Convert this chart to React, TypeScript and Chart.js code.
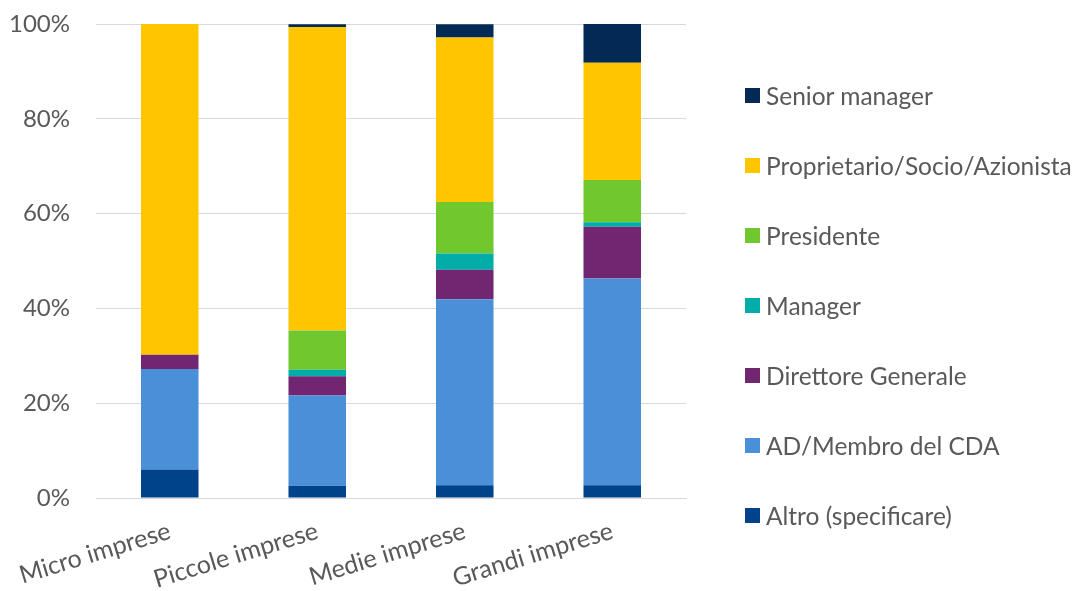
import React, { useEffect, useRef } from "react";
import { Chart, registerables } from "chart.js";

Chart.register(...registerables);

const categories = ["Micro imprese", "Piccole imprese", "Medie imprese", "Grandi imprese"];
const altro = [6.0, 2.6, 2.7, 2.7];
const adMembro = [21.2, 19.0, 39.25, 43.6];
const direttore = [3.0, 4.1, 6.2, 10.9];
const manager = [0, 1.35, 3.45, 0.95];
const presidente = [0, 8.3, 10.85, 8.95];
const proprietario = [69.8, 64.0, 34.7, 24.7];
const senior = [0, 0.6, 2.8, 8.2];
const yTicks = [0, 20, 40, 60, 80, 100];

const seriesNames = [
  "Altro (specificare)",
  "AD/Membro del CDA",
  "Direttore Generale",
  "Manager",
  "Presidente",
  "Proprietario/Socio/Azionista",
  "Senior manager",
];
const seriesData = [altro, adMembro, direttore, manager, presidente, proprietario, senior];
const seriesColors = ["#00438A", "#4A90D9", "#702670", "#00ADA8", "#70C72E", "#FFC600", "#022A54"];

const FONT = "Lato";
const TEXT = "#595959";

export default function App() {
  const ref = useRef<HTMLCanvasElement>(null);
  useEffect(() => {
    const ctx = ref.current!;
    const chart = new Chart(ctx, {
      type: "bar",
      data: {
        labels: categories,
        datasets: seriesNames.map((n, i) => ({
          label: n,
          data: seriesData[i],
          backgroundColor: seriesColors[i],
          borderWidth: 0,
          barPercentage: 0.39,
          categoryPercentage: 1,
        })),
      },
      options: {
        animation: false,
        responsive: false,
        maintainAspectRatio: false,
        layout: { padding: { left: 0, right: 391, top: 24, bottom: 0 } },
        plugins: { legend: { display: false }, tooltip: { enabled: false } },
        scales: {
          x: {
            stacked: true,
            grid: { display: false },
            border: { display: true, color: "#D9D9D9", width: 1 },
            ticks: {
              color: TEXT,
              font: { family: FONT, size: 25 },
              minRotation: 17,
              maxRotation: 17,
              padding: 10,
            },
            afterFit: (s: any) => {
              s.height = 93;
              s.paddingLeft = 0;
              s.paddingRight = 0;
            },
          },
          y: {
            stacked: true,
            min: 0,
            max: 100,
            grid: { color: "#D9D9D9", drawTicks: false, lineWidth: 1 },
            border: { display: false },
            afterBuildTicks: (s: any) => {
              s.ticks = yTicks.map((v) => ({ value: v }));
            },
            ticks: {
              color: TEXT,
              font: { family: FONT, size: 24 },
              padding: 26,
              callback: (v: any) => v + "%",
            },
            afterFit: (s: any) => {
              s.width = 96;
              s.paddingTop = 0;
              s.paddingBottom = 0;
            },
          },
        },
      },
    });
    return () => chart.destroy();
  }, []);

  const legendItems = seriesNames.map((n, i) => ({ n, c: seriesColors[i] })).reverse();

  return (
    <div style={{ position: "fixed", left: 0, top: 0, width: 1077, height: 591, background: "#fff" }}>
      <canvas ref={ref} width={1077} height={591} style={{ position: "absolute", left: 0, top: 0 }} />
      <div style={{ position: "absolute", left: 745, top: 60, display: "flex", flexDirection: "column" }}>
        {legendItems.map((it) => (
          <div key={it.n} style={{ height: 70, display: "flex", alignItems: "center" }}>
            <div style={{ width: 15, height: 15, background: it.c, marginRight: 6 }} />
            <span style={{ fontFamily: FONT, fontSize: 24.5, color: TEXT, whiteSpace: "nowrap" }}>{it.n}</span>
          </div>
        ))}
      </div>
    </div>
  );
}
